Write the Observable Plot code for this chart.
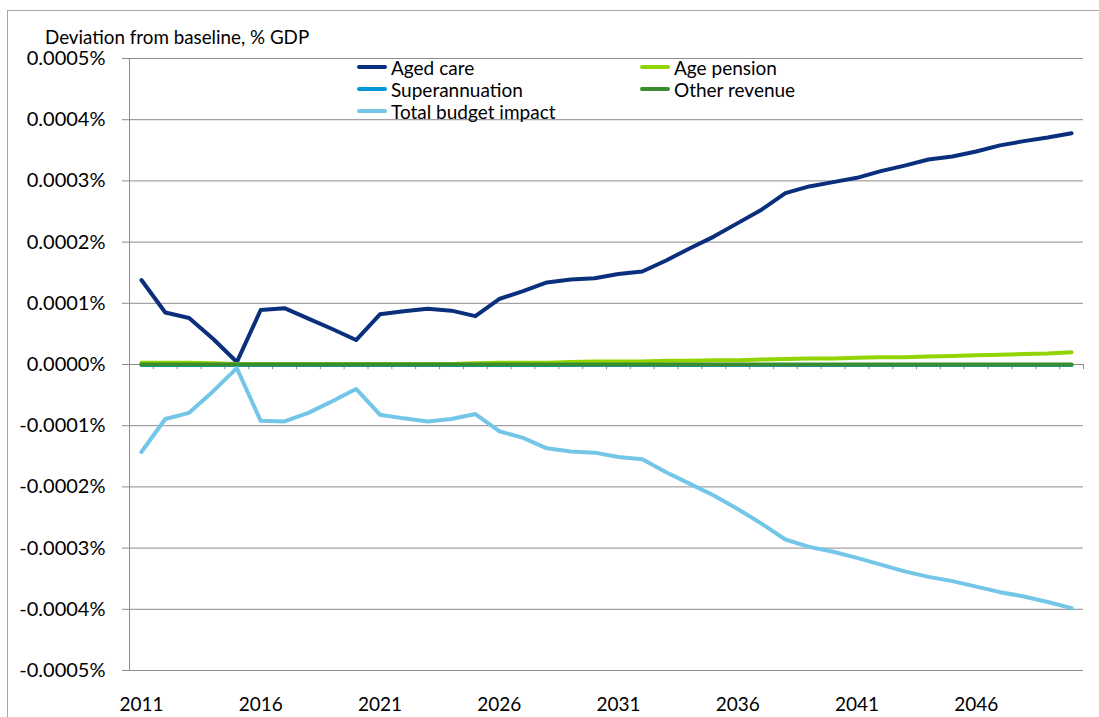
<!DOCTYPE html>
<html>
<head>
<meta charset="utf-8">
<script src="https://cdn.jsdelivr.net/npm/d3@7"></script>
<script src="https://cdn.jsdelivr.net/npm/@observablehq/plot@0.6"></script>
<style>
  html, body { margin: 0; padding: 0; background: #fff; overflow: hidden; }
  #wrap { position: relative; width: 1099px; height: 717px; overflow: hidden; font-family: Lato, "Open Sans", sans-serif; }
  #border { position: absolute; left: 7px; top: 10px; width: 1200px; height: 800px; border: 1px solid #a6a6a6; box-sizing: border-box; }
  #chart { position: absolute; left: 0; top: 0; }
  #ytitle { position: absolute; left: 45px; top: 25px; font-size: 18.8px; color: #000; white-space: nowrap; }
  .leg { position: absolute; display: flex; align-items: center; font-size: 19px; color: #000; white-space: nowrap; height: 22px; }
  .leg .sw { width: 30px; height: 4px; border-radius: 2px; margin-right: 4px; }
</style>
</head>
<body>
<div id="wrap">
  <div id="border"></div>
  <div id="chart"></div>
  <div id="ytitle">Deviation from baseline, % GDP</div>
  <div id="legend"></div>
</div>
<script>
// ---- data (values in % of GDP) ----
const years = d3.range(2011, 2051);
const agedCare = [0.000138, 0.000085, 0.000076, 0.000042, 0.000004, 0.000089, 0.000092, 0.000075, 0.000058, 0.000040,
  0.000082, 0.000087, 0.000091, 0.000088, 0.000079, 0.000107, 0.000120, 0.000134, 0.000139, 0.000141,
  0.000148, 0.000152, 0.000170, 0.000190, 0.000209, 0.000231, 0.000253, 0.000280, 0.000291, 0.000298,
  0.000305, 0.000316, 0.000325, 0.000335, 0.000340, 0.000348, 0.000358, 0.000365, 0.000371, 0.000378];
const agePension = [0.000003, 0.000003, 0.000003, 0.000002, 0.000001, 0.000001, 0.000001, 0.000001, 0.000001, 0.000001,
  0.000001, 0.000001, 0.000001, 0.000001, 0.000002, 0.000003, 0.000003, 0.000003, 0.000004, 0.000005,
  0.000005, 0.000005, 0.000006, 0.000006, 0.000007, 0.000007, 0.000008, 0.000009, 0.000010, 0.000010,
  0.000011, 0.000012, 0.000012, 0.000013, 0.000014, 0.000015, 0.000016, 0.000017, 0.000018, 0.000020];
const superannuation = years.map(() => -0.0000008);
const otherRevenue = years.map(() => 0);
const totalBudget = [-0.000143, -0.000089, -0.000079, -0.000044, -0.000006, -0.000092, -0.000093, -0.000079, -0.000060, -0.000040,
  -0.000082, -0.000088, -0.000093, -0.000089, -0.000081, -0.000109, -0.000120, -0.000137, -0.000142, -0.000144,
  -0.000151, -0.000155, -0.000176, -0.000195, -0.000214, -0.000236, -0.000260, -0.000286, -0.000298, -0.000306,
  -0.000316, -0.000327, -0.000338, -0.000347, -0.000354, -0.000363, -0.000372, -0.000379, -0.000388, -0.000398];

const seriesNames = ["Aged care", "Age pension", "Superannuation", "Other revenue", "Total budget impact"];
const seriesValues = [agedCare, agePension, superannuation, otherRevenue, totalBudget];
const seriesColors = ["#0a2f7c", "#92d400", "#0099d8", "#3a8d2f", "#73c6e7"];

const yTicks = [-0.0005, -0.0004, -0.0003, -0.0002, -0.0001, 0, 0.0001, 0.0002, 0.0003, 0.0004, 0.0005];
const xTicks = [2011, 2016, 2021, 2026, 2031, 2036, 2041, 2046];
const xDomain = [years[0] - 0.5, years[years.length - 1] + 0.5];
const boundaries = years.map(y => y + 0.5);

// long table
const rows = [];
seriesNames.forEach((name, si) => {
  years.forEach((yr, i) => rows.push({series: name, year: yr, value: seriesValues[si][i]}));
});

const fmt = d => (Math.abs(d) < 1e-12 ? 0 : d).toFixed(4) + "%";

const chart = Plot.plot({
  width: 1099,
  height: 717,
  marginTop: 58,
  marginBottom: 47,
  marginLeft: 129,
  marginRight: 16,
  style: {fontFamily: "Lato, 'Open Sans', sans-serif", background: "transparent"},
  x: {domain: xDomain, label: null},
  y: {domain: [yTicks[0], yTicks[yTicks.length - 1]], label: null},
  color: {domain: seriesNames, range: seriesColors},
  marks: [
    Plot.ruleY(yTicks, {stroke: "#8c8c8c", strokeWidth: 1}),
    Plot.ruleX([xDomain[0]], {stroke: "#8c8c8c", strokeWidth: 1}),
    Plot.axisY({ticks: yTicks, tickFormat: fmt, tickSize: 7, tickPadding: 17, fontSize: 20, stroke: "#8c8c8c", fill: "#000", label: null}),
    Plot.axisX({ticks: xTicks, tickFormat: d => String(d), tickSize: 0, tickPadding: 27, fontSize: 19, fill: "#000", label: null}),
    Plot.ruleX(boundaries, {y1: 0, y2: -0.0000085, stroke: "#8c8c8c", strokeWidth: 1}),
    Plot.line(rows, {x: "year", y: "value", z: "series", stroke: "series", strokeWidth: 4, strokeLinecap: "round", strokeLinejoin: "round"})
  ]
});
document.getElementById("chart").appendChild(chart);

// legend (HTML overlay)
const legendPos = [
  {left: 357, top: 56}, {left: 640, top: 56},
  {left: 357, top: 78}, {left: 640, top: 78},
  {left: 357, top: 100}
];
const legend = document.getElementById("legend");
seriesNames.forEach((name, i) => {
  const el = document.createElement("div");
  el.className = "leg";
  el.style.left = legendPos[i].left + "px";
  el.style.top = legendPos[i].top + "px";
  el.innerHTML = `<span class="sw" style="background:${seriesColors[i]}"></span><span>${name}</span>`;
  legend.appendChild(el);
});
</script>
</body>
</html>
